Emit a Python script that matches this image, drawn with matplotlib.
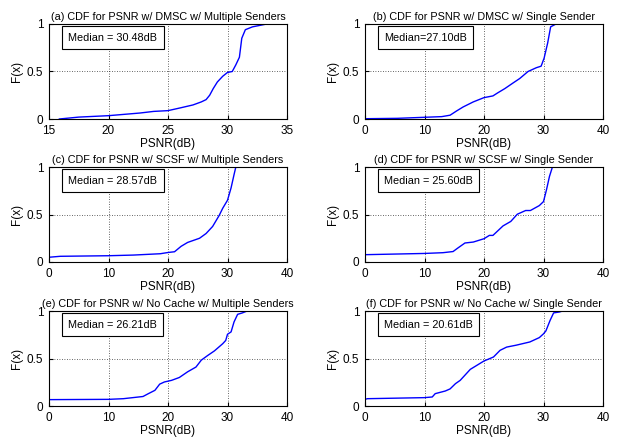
import matplotlib
matplotlib.use("Agg")
import matplotlib.pyplot as plt

plt.rcParams['font.family'] = ['Liberation Sans', 'DejaVu Sans']

titles = [
    "(a) CDF for PSNR w/ DMSC w/ Multiple Senders",
    "(b) CDF for PSNR w/ DMSC w/ Single Sender",
    "(c) CDF for PSNR w/ SCSF w/ Multiple Senders",
    "(d) CDF for PSNR w/ SCSF w/ Single Sender",
    "(e) CDF for PSNR w/ No Cache w/ Multiple Senders",
    "(f) CDF for PSNR w/ No Cache w/ Single Sender",
]
medians = ["Median = 30.48dB", "Median=27.10dB", "Median = 28.57dB",
           "Median = 25.60dB", "Median = 26.21dB", "Median = 20.61dB"]

# CDF curves: (PSNR, F)
a_x = [15.87, 17.5, 20, 22.65, 23.8, 25, 26, 27.1, 27.8, 28.2, 28.5, 28.8, 29.15, 29.6, 30, 30.4, 30.7, 31, 31.2, 31.5, 32.1, 33.3]
a_y = [0.0, 0.02, 0.035, 0.063, 0.08, 0.088, 0.116, 0.148, 0.18, 0.204, 0.25, 0.32, 0.39, 0.45, 0.49, 0.5, 0.57, 0.65, 0.85, 0.94, 0.97, 1.0]

b_x = [0, 5.4, 10, 12.9, 14.3, 15.4, 16.5, 18.2, 20, 21.5, 22.3, 23.5, 24.9, 26, 27.4, 28.8, 29.6, 30.1, 30.7, 31.2, 32.1, 33.8]
b_y = [0.003, 0.007, 0.018, 0.025, 0.04, 0.085, 0.127, 0.18, 0.225, 0.243, 0.275, 0.32, 0.38, 0.426, 0.5, 0.54, 0.556, 0.64, 0.8, 0.97, 1.0, 1.0]

c_x = [0, 1.9, 10, 14.2, 18.7, 20, 21.1, 22.2, 23.3, 25.3, 26.4, 27.5, 28.6, 29.2, 30, 30.6, 31.1, 31.4, 33.5]
c_y = [0.05, 0.06, 0.066, 0.073, 0.087, 0.1, 0.108, 0.165, 0.206, 0.25, 0.3, 0.374, 0.49, 0.566, 0.65, 0.78, 0.92, 1.0, 1.0]

d_x = [0, 0, 10, 13.1, 14.8, 15.6, 16.8, 18.2, 20, 20.9, 21.5, 23.2, 24.5, 25.6, 27, 27.8, 29.3, 30, 30.5, 31, 31.5, 33.5]
d_y = [0.0, 0.077, 0.09, 0.098, 0.11, 0.147, 0.2, 0.21, 0.245, 0.28, 0.28, 0.38, 0.427, 0.503, 0.542, 0.542, 0.594, 0.636, 0.76, 0.9, 1.0, 1.0]

e_x = [0, 0, 10, 12.5, 15.8, 16.7, 17.8, 18.6, 19.4, 20.6, 21.9, 23.3, 24.7, 25.6, 26.7, 27.8, 29.2, 29.7, 30, 30.6, 31.1, 31.7, 32.5, 33.3]
e_y = [0.0, 0.067, 0.07, 0.077, 0.1, 0.13, 0.165, 0.23, 0.253, 0.27, 0.3, 0.36, 0.41, 0.483, 0.533, 0.58, 0.656, 0.69, 0.755, 0.78, 0.885, 0.965, 0.98, 1.0]

f_x = [0, 0.4, 10, 11.3, 11.8, 13.5, 14.3, 15.2, 16, 17.7, 18.8, 20, 21, 21.6, 22.7, 23.8, 25.4, 27.7, 29.3, 30, 30.4, 31.1, 31.7, 32.7, 33.2]
f_y = [0.07, 0.077, 0.088, 0.095, 0.13, 0.158, 0.18, 0.235, 0.27, 0.386, 0.428, 0.474, 0.5, 0.516, 0.586, 0.62, 0.64, 0.674, 0.72, 0.76, 0.79, 0.9, 0.98, 0.99, 1.0]

curves = [(a_x, a_y), (b_x, b_y), (c_x, c_y), (d_x, d_y), (e_x, e_y), (f_x, f_y)]
xlims = [(15, 35), (0, 40), (0, 40), (0, 40), (0, 40), (0, 40)]
xticks = [[15, 20, 25, 30, 35]] + [[0, 10, 20, 30, 40]] * 5

fig = plt.figure(figsize=(6.28, 4.40), dpi=100)
W, H = 628, 440
lefts = [49, 365]
tops = [24, 167, 311]
aw, ah = 238, 95

for i in range(6):
    r, c = divmod(i, 2)
    l = lefts[c]
    t = tops[r]
    ax = fig.add_axes([l / W, 1 - (t + ah) / H, aw / W, ah / H])
    xs, ys = curves[i]
    ax.plot(xs, ys, color='blue', linewidth=1.0)
    ax.set_xlim(*xlims[i])
    ax.set_ylim(0, 1)
    ax.set_xticks(xticks[i])
    ax.set_yticks([0, 0.5, 1])
    ax.set_yticklabels(["0", "0.5", "1"])
    ax.tick_params(axis='x', direction='in', labelsize=8.5, length=3, pad=4)
    ax.tick_params(axis='y', direction='in', labelsize=8.5, length=3, pad=4)
    ax.grid(True, linestyle=(0, (1, 2)), color='black', linewidth=0.6, alpha=0.8)
    for sp in ax.spines.values():
        sp.set_linewidth(0.8)
    ax.set_title(titles[i], fontsize=7.8, pad=3)
    ax.set_xlabel("PSNR(dB)", fontsize=8.5, labelpad=1)
    ax.set_ylabel("F(x)", fontsize=8.5, labelpad=3)
    ax.text(0.08, 0.855, medians[i], transform=ax.transAxes, fontsize=7.8,
            va='center', ha='left',
            bbox=dict(boxstyle='square,pad=0.6', facecolor='white', edgecolor='black', linewidth=0.8))

fig.savefig("out.png", dpi=100)
